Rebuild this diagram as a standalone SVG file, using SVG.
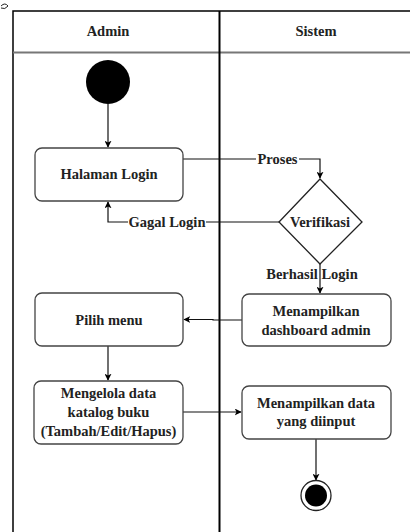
<svg xmlns="http://www.w3.org/2000/svg" width="410" height="532" viewBox="0 0 410 532">
<defs>
<marker id="ah" viewBox="0 0 10 10" refX="9" refY="5" markerWidth="7" markerHeight="7" orient="auto" markerUnits="userSpaceOnUse">
<path d="M0,0 L10,5 L0,10 L2.5,5 Z" fill="#000"/>
</marker>
</defs>
<style>
.t{fill:#222;text-anchor:middle;dominant-baseline:central}
.box{fill:#fff;stroke:#444;stroke-width:1.3}
.edge{fill:none;stroke:#111;stroke-width:1.2}
.lbl{fill:#fff}
</style>
<rect width="410" height="532" fill="#fff"/>
<path d="M1,6 Q5,2 8,6 Q5,10 1,8" fill="none" stroke="#222" stroke-width="1"/>
<g font-family="Liberation Serif" font-weight="bold" font-size="14.5">
<g id="lanes">
<path d="M13,532 V11 H410" fill="none" stroke="#000" stroke-width="1.5"/>
<line x1="13" y1="52.5" x2="410" y2="52.5" stroke="#777" stroke-width="2"/>
<line x1="219.5" y1="11" x2="219.5" y2="532" stroke="#000" stroke-width="2"/>
<text class="t" x="108" y="31">Admin</text>
<text class="t" x="316" y="31">Sistem</text>
</g>
<g id="connectors">
<line class="edge" x1="108" y1="104" x2="108" y2="147" marker-end="url(#ah)"/>
<path class="edge" d="M183,159 H320 V178" marker-end="url(#ah)"/>
<rect class="lbl" x="256" y="151" width="43" height="16"/>
<text class="t" x="277.5" y="159">Proses</text>
<path class="edge" d="M279,222 H108 V202" marker-end="url(#ah)"/>
<rect class="lbl" x="128" y="214" width="78" height="16"/>
<text class="t" x="167" y="222">Gagal Login</text>
<line class="edge" x1="320" y1="264" x2="320" y2="293" marker-end="url(#ah)"/>
<text class="t" x="312" y="274">Berhasil Login</text>
<path class="edge" d="M242,320 H213 V319.5 H184" marker-end="url(#ah)"/>
<line class="edge" x1="108" y1="346" x2="108" y2="380" marker-end="url(#ah)"/>
<line class="edge" x1="183" y1="412" x2="241" y2="412" marker-end="url(#ah)"/>
<line class="edge" x1="316" y1="439" x2="316" y2="480" marker-end="url(#ah)"/>
</g>
<g id="start">
<circle cx="108" cy="82" r="22" fill="#000"/>
</g>
<g id="halaman-login">
<rect class="box" x="35" y="148" width="148" height="53" rx="7"/>
<text class="t" x="109" y="174">Halaman Login</text>
</g>
<g id="verifikasi">
<polygon points="320,179 362,222 320,264 279,222" fill="#fff" stroke="#222" stroke-width="1.3"/>
<text class="t" x="320" y="222">Verifikasi</text>
</g>
<g id="dashboard">
<rect class="box" x="242" y="294" width="149" height="52" rx="7"/>
<text class="t" x="316" y="311">Menampilkan</text>
<text class="t" x="316" y="329.5">dashboard admin</text>
</g>
<g id="pilih-menu">
<rect class="box" x="35" y="293" width="148" height="53" rx="7"/>
<text class="t" x="109" y="319.5">Pilih menu</text>
</g>
<g id="mengelola">
<rect class="box" x="34" y="381" width="149" height="63" rx="7"/>
<text class="t" x="108.5" y="393">Mengelola data</text>
<text class="t" x="108.5" y="412">katalog buku</text>
<text class="t" x="108.5" y="431">(Tambah/Edit/Hapus)</text>
</g>
<g id="menampilkan-data">
<rect class="box" x="242" y="386" width="149" height="53" rx="7"/>
<text class="t" x="316" y="403">Menampilkan data</text>
<text class="t" x="316" y="421">yang diinput</text>
</g>
<g id="end">
<circle cx="316" cy="495.5" r="15" fill="#fff" stroke="#222" stroke-width="1.3"/>
<circle cx="316" cy="495.5" r="11" fill="#000"/>
</g>
</g>
</svg>
